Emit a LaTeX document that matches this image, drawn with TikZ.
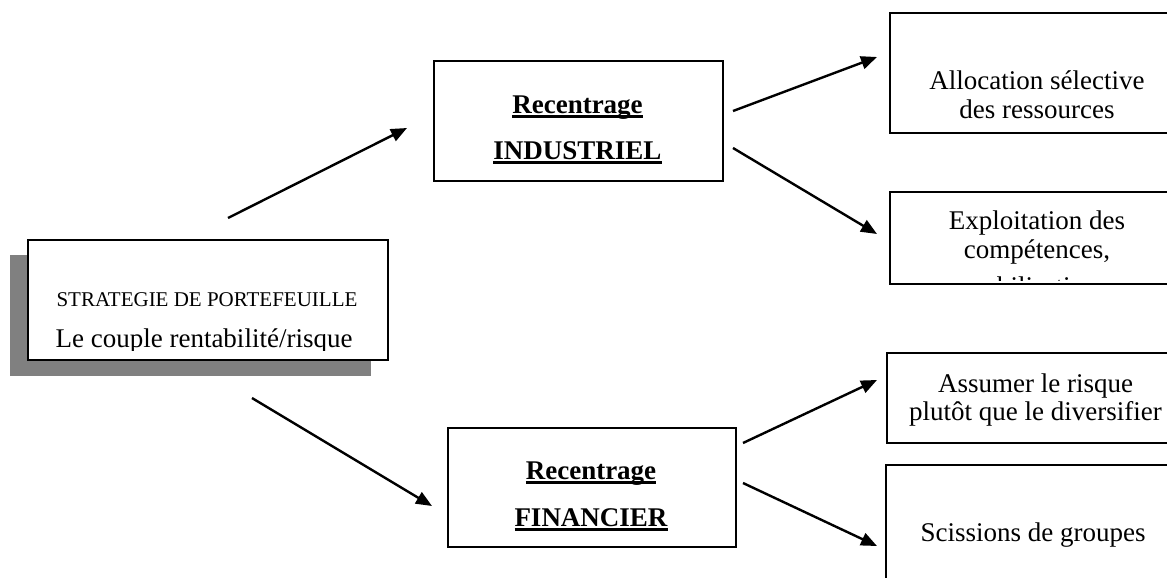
\documentclass[tikz,border=0pt]{standalone}
\usepackage{fontspec}
\setmainfont{Liberation Serif}
\usetikzlibrary{arrows.meta}
\definecolor{shadowgray}{HTML}{808080}
\newcommand\ulbar[1]{\setbox0\hbox{#1}\rlap{\rule[-5pt]{\wd0}{2.6pt}}\box0}
\begin{document}
\begin{tikzpicture}[x=1pt,y=-1pt,
  box/.style={draw, line width=2pt, fill=white, inner sep=0pt, anchor=north west},
  txt/.style={anchor=base, inner sep=0pt, font=\fontsize{27}{29}\selectfont},
  small/.style={anchor=base, inner sep=0pt, font=\fontsize{21}{23}\selectfont},
  bold/.style={anchor=base, inner sep=0pt, font=\fontsize{27}{29}\selectfont\bfseries},
  arr/.style={line width=2.4pt, -{Triangle[length=16pt,width=13pt]}}]
\useasboundingbox (0,0) rectangle (1167,578);
\clip (0,0) rectangle (1167,578);
% left box with shadow
\fill[shadowgray] (10,255) rectangle (371,376);
\node[box, minimum width=360pt, minimum height=120pt] (strat) at (27,239) {};
\node[small] (strat1) at (207,306) {STRATEGIE DE PORTEFEUILLE};
\begin{scope}
  \clip (27,239) rectangle (387,350);
  \node[txt] (strat2) at (204,347) {Le couple rentabilité/risque};
\end{scope}
% middle boxes
\node[box, minimum width=289pt, minimum height=120pt] (ind) at (433,60) {};
\node[bold] (ind1) at (577.5,113) {\ulbar{Recentrage}};
\node[bold] (ind2) at (577.5,159) {\ulbar{INDUSTRIEL}};
\node[box, minimum width=288pt, minimum height=119pt] (fin) at (447,427) {};
\node[bold] (fin1) at (591,479) {\ulbar{Recentrage}};
\node[bold] (fin2) at (591,526) {\ulbar{FINANCIER}};
% right boxes
\node[box, minimum width=296pt, minimum height=120pt] (alloc) at (889,12) {};
\node[txt] (alloc1) at (1037,89) {Allocation sélective};
\node[txt] (alloc2) at (1037,118) {des ressources};
\node[box, minimum width=296pt, minimum height=92pt] (expl) at (889,191) {};
\node[txt] (expl1) at (1037,229) {Exploitation des};
\node[txt] (expl2) at (1037,258) {compétences,};
\begin{scope}
  \clip (889,191) rectangle (1185,280);
  \node[txt] (expl3) at (1030,295) {mobilisation};
\end{scope}
\node[box, minimum width=299pt, minimum height=90pt] (assu) at (886,352) {};
\node[txt] (assu1) at (1035.5,392) {Assumer le risque};
\node[txt] (assu2) at (1035.5,420) {plutôt que le diversifier};
\node[box, minimum width=300pt, minimum height=200pt] (sciss) at (885,464) {};
\node[txt] (sciss1) at (1033,541) {Scissions de groupes};
% arrow end points
\coordinate (a1s) at (228,218); \coordinate (a1e) at (407,128);
\coordinate (a2s) at (252,398); \coordinate (a2e) at (432,506);
\coordinate (a3s) at (733,111); \coordinate (a3e) at (877,57);
\coordinate (a4s) at (733,148); \coordinate (a4e) at (877,234);
\coordinate (a5s) at (743,443); \coordinate (a5e) at (877,380);
\coordinate (a6s) at (743,483); \coordinate (a6e) at (877,546);
\draw[arr] (a1s) -- (a1e);
\draw[arr] (a2s) -- (a2e);
\draw[arr] (a3s) -- (a3e);
\draw[arr] (a4s) -- (a4e);
\draw[arr] (a5s) -- (a5e);
\draw[arr] (a6s) -- (a6e);
\end{tikzpicture}
\end{document}
